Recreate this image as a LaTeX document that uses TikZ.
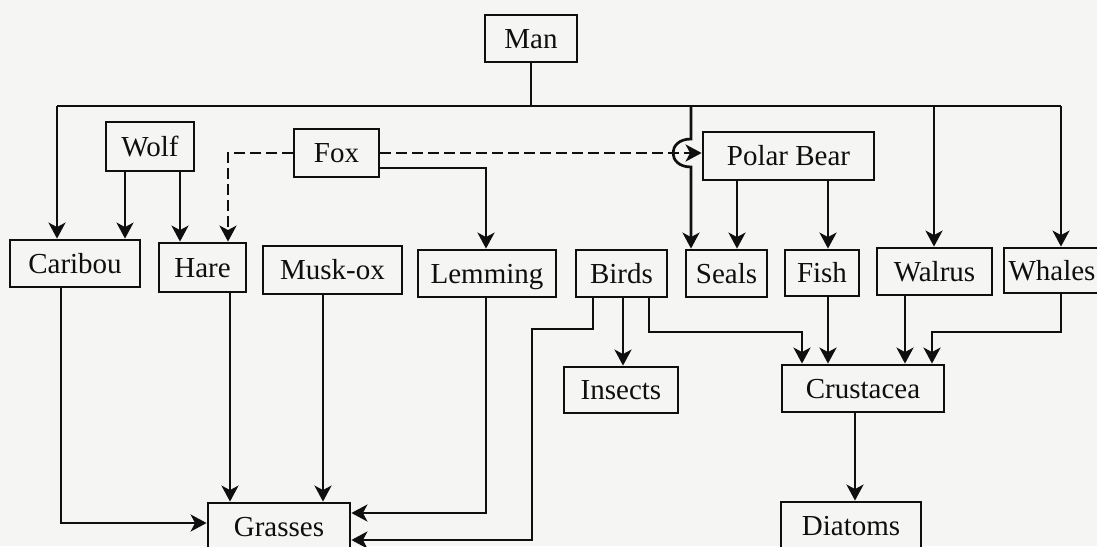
\documentclass[tikz,border=0pt]{standalone}
\usepackage{fontspec}
\setmainfont{Liberation Serif}
\usetikzlibrary{arrows.meta}
\definecolor{paper}{RGB}{245,245,243}
\definecolor{ink}{RGB}{15,15,15}
\begin{document}
\begin{tikzpicture}[x=1pt,y=-1pt,
  box/.style={draw=ink,line width=2.8pt,fill=paper,inner sep=0pt,
    font=\fontsize{29}{34}\selectfont,text=ink,text height=19pt,text depth=0pt},
  link/.style={draw=ink,line width=2.7pt},
  arr/.style={link,-{Stealth[length=16pt,width=17pt,inset=4.5pt]}},
  dasharr/.style={arr,dash pattern=on 11pt off 5pt},
]
\useasboundingbox (0,0) rectangle (1097,546);
\clip (0,0) rectangle (1097,546);
\fill[paper] (0,0) rectangle (1097,546);

% nodes
\node[box,minimum width=92pt,minimum height=47pt] (man) at (531,38.5) {Man};
\node[box,minimum width=88pt,minimum height=49pt] (wolf) at (150,146.5) {Wolf};
\node[box,minimum width=85pt,minimum height=48pt] (fox) at (336.5,153) {Fox};
\node[box,minimum width=171pt,minimum height=48pt] (pb) at (788.5,156) {Polar Bear};
\node[box,minimum width=130pt,minimum height=47pt] (caribou) at (75,263.5) {Caribou};
\node[box,minimum width=87pt,minimum height=49pt] (hare) at (202.5,267.5) {Hare};
\node[box,minimum width=139pt,minimum height=48pt] (musk) at (332.5,270) {Musk-ox};
\node[box,minimum width=138pt,minimum height=47pt] (lemming) at (487,273.5) {Lemming};
\node[box,minimum width=91pt,minimum height=47pt] (birds) at (621.5,273.5) {Birds};
\node[box,minimum width=81pt,minimum height=47pt] (seals) at (726.5,273.5) {Seals};
\node[box,minimum width=74pt,minimum height=46pt] (fish) at (822,273) {Fish};
\node[box,minimum width=115pt,minimum height=47pt] (walrus) at (934.5,271.5) {Walrus};
\node[box,minimum width=96pt,minimum height=45pt] (whales) at (1052,270.5) {Whales};
\node[box,minimum width=114pt,minimum height=46pt] (insects) at (621,390) {Insects};
\node[box,minimum width=162pt,minimum height=47pt] (crus) at (863,388.5) {Crustacea};
\node[box,minimum width=142pt,minimum height=47pt] (grasses) at (279,526.5) {Grasses};
\node[box,minimum width=140pt,minimum height=47pt] (diatoms) at (851,525.5) {Diatoms};

% helper coordinates
\coordinate (j) at (531,106);
\coordinate (tl) at (57,106);
\coordinate (tr) at (1061,106);
\coordinate (ts) at (691,106);
\coordinate (tw) at (934,106);
\coordinate (cA) at (125,0);
\coordinate (cB) at (180,0);
\coordinate (cC) at (228,0);
\coordinate (cD) at (61,0);
\coordinate (cE) at (230,0);
\coordinate (cF) at (323,0);
\coordinate (cG) at (486,0);
\coordinate (cH) at (737,0);
\coordinate (cI) at (828,0);
\coordinate (cJ) at (905,0);
\coordinate (cK) at (855,0);
\coordinate (cL) at (623,0);
\coordinate (rA) at (0,523);
\coordinate (rB) at (0,513);
\coordinate (rC) at (0,540);
\coordinate (rD) at (0,168);
\coordinate (b1) at (593,329);
\coordinate (b2) at (532,329);
\coordinate (b3) at (649,332);
\coordinate (b4) at (802,332);
\coordinate (w1) at (1061,332);
\coordinate (w2) at (932,332);

% Man's links
\draw[link] (man) -- (j);
\draw[link] (tl) -- (tr);
\draw[arr] (tl) -- (caribou.north -| tl);
\draw[arr] (tr) -- (whales.north -| tr);
\draw[arr] (tw) -- (walrus.north -| tw);
\draw[arr] (ts) -- (691,139) .. controls (667,139) and (667,167) .. (691,167) -- (seals.north -| ts);

% Wolf
\draw[arr] (wolf.south -| cA) -- (caribou.north -| cA);
\draw[arr] (wolf.south -| cB) -- (hare.north -| cB);

% Fox
\draw[dasharr] (fox.west) -- (fox.west -| cC) -- (hare.north -| cC);
\draw[dasharr] (fox.east) -- (fox.east -| pb.west);
\draw[arr] (fox.east |- rD) -- (rD -| cG) -- (lemming.north -| cG);

% Polar Bear
\draw[arr] (pb.south -| cH) -- (seals.north -| cH);
\draw[arr] (pb.south -| cI) -- (fish.north -| cI);

% herbivores to grasses
\draw[arr] (caribou.south -| cD) -- (cD |- rA) -- (rA -| grasses.west);
\draw[arr] (hare.south -| cE) -- (grasses.north -| cE);
\draw[arr] (musk.south -| cF) -- (grasses.north -| cF);
\draw[arr] (lemming.south -| cG) -- (cG |- rB) -- (rB -| grasses.east);

% Birds
\draw[arr] (birds.south -| b1) -- (b1) -- (b2) -- (b2 |- rC) -- (rC -| grasses.east);
\draw[arr] (birds.south -| cL) -- (insects.north -| cL);
\draw[arr] (birds.south -| b3) -- (b3) -- (b4) -- (crus.north -| b4);

% sea animals to Crustacea
\draw[arr] (fish.south -| cI) -- (crus.north -| cI);
\draw[arr] (walrus.south -| cJ) -- (crus.north -| cJ);
\draw[arr] (whales.south -| w1) -- (w1) -- (w2) -- (crus.north -| w2);
\draw[arr] (crus.south -| cK) -- (diatoms.north -| cK);
\end{tikzpicture}
\end{document}
